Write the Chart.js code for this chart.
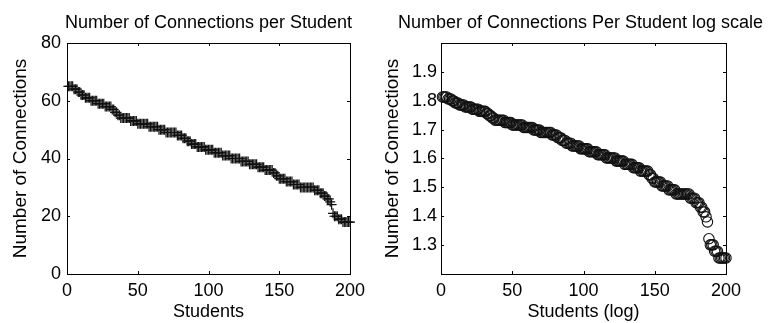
<!DOCTYPE html>
<html>
<head>
<meta charset="utf-8">
<script src="https://cdn.jsdelivr.net/npm/chart.js@4/dist/chart.umd.min.js"></script>
<style>
  html, body { margin: 0; padding: 0; background: #fff; overflow: hidden; }
  #wrap { position: relative; width: 776px; height: 323px; overflow: hidden; }
  canvas { position: absolute; top: 0; }
  #left { left: 0; }
  #right { left: 383px; }
</style>
</head>
<body>
<div id="wrap">
  <canvas id="left" width="417" height="323" style="width:417px;height:323px"></canvas>
  <canvas id="right" width="395" height="323" style="width:395px;height:323px"></canvas>
</div>
<script>
// Connections per student, sorted from most to fewest connected
const connections = [
  65,65,65,65,64,64,64,63,63,62,
  62,62,61,61,61,61,60,60,60,60,
  60,59,59,59,59,59,58,58,58,58,
  58,57,57,56,56,55,55,54,54,54,
  54,54,54,54,53,53,53,53,53,52,
  52,52,52,52,52,52,52,51,51,51,
  51,51,51,51,50,50,50,50,50,49,
  49,49,49,49,49,49,49,48,48,48,
  48,47,47,47,46,46,46,45,45,45,
  45,44,44,44,44,44,44,43,43,43,
  43,43,43,42,42,42,42,42,42,41,
  41,41,41,41,41,40,40,40,40,40,
  40,40,39,39,39,39,39,39,38,38,
  38,38,38,38,37,37,37,37,37,36,
  36,36,36,36,36,35,35,34,34,33,
  33,33,33,33,32,32,32,32,32,31,
  31,31,31,31,30,30,30,30,30,30,
  30,30,30,30,29,29,29,29,28,28,
  28,27,27,26,26,25,24,21,20,20,
  20,19,19,19,18,18,18,18,18,18
];

// Axis tick values
const studentTicks = [0, 50, 100, 150, 200];
const countTicks = [0, 20, 40, 60, 80];
const logCountTicks = [1.3, 1.4, 1.5, 1.6, 1.7, 1.8, 1.9];

// Points: student rank on x, connections (or its log10) on y
const linearPoints = connections.map((v, i) => ({ x: i + 1, y: v }));
const logPoints = connections.map((v, i) => ({ x: i + 1, y: Math.log10(v) }));

Chart.defaults.font.family = '"Liberation Sans", Arial, Helvetica, sans-serif';
Chart.defaults.color = '#000';

// Boxed axes with short inward tick marks on all four sides
const boxTicks = {
  id: 'boxTicks',
  beforeDatasetsDraw(chart) {
    const { ctx, chartArea: { left, right, top, bottom }, scales } = chart;
    const len = 3;
    ctx.save();
    ctx.strokeStyle = '#000';
    ctx.lineWidth = 1;
    ctx.strokeRect(left + 0.5, top + 0.5, right - left, bottom - top);
    ctx.beginPath();
    scales.x.ticks.forEach(t => {
      const px = Math.round(scales.x.getPixelForValue(t.value)) + 0.5;
      ctx.moveTo(px, bottom); ctx.lineTo(px, bottom - len);
      ctx.moveTo(px, top); ctx.lineTo(px, top + len);
    });
    scales.y.ticks.forEach(t => {
      const py = Math.round(scales.y.getPixelForValue(t.value)) + 0.5;
      ctx.moveTo(left, py); ctx.lineTo(left + len, py);
      ctx.moveTo(right, py); ctx.lineTo(right - len, py);
    });
    ctx.stroke();
    ctx.restore();
  }
};

function fixed(size) { return function (scale) { if (scale.isHorizontal()) scale.height = size; else scale.width = size; }; }

function makeChart(id, cfg) {
  return new Chart(document.getElementById(id), {
    type: 'scatter',
    data: { datasets: [cfg.dataset] },
    plugins: [boxTicks],
    options: {
      responsive: false,
      devicePixelRatio: 1,
      animation: false,
      events: [],
      layout: { padding: 0 },
      plugins: {
        legend: { display: false },
        tooltip: { enabled: false },
        title: {
          display: true,
          text: cfg.title,
          font: { size: 18, weight: 'normal' },
          color: '#000',
          padding: { top: 12, bottom: 9.4 }
        }
      },
      scales: {
        x: {
          type: 'linear',
          min: 0, max: 200,
          afterBuildTicks: s => { s.ticks = studentTicks.map(v => ({ value: v })); },
          afterFit: fixed(49),
          grid: { display: false, drawTicks: false },
          border: { display: false },
          ticks: { font: { size: 18 }, padding: 6, color: '#000', maxRotation: 0 },
          title: { display: true, text: cfg.xTitle, font: { size: 18 }, color: '#000', padding: { top: 0, bottom: 0.5 } }
        },
        y: {
          type: 'linear',
          position: 'left',
          min: cfg.yMin, max: cfg.yMax,
          afterBuildTicks: s => { s.ticks = cfg.yTicks.map(v => ({ value: v })); },
          afterFit: fixed(cfg.yWidth),
          grid: { display: false, drawTicks: false },
          border: { display: false },
          ticks: { font: { size: 18 }, padding: cfg.yTickPad, color: '#000', callback: cfg.yFormat },
          title: { display: true, text: 'Number of Connections', font: { size: 19, lineHeight: 1 }, color: '#000', padding: { top: cfg.yTitlePad, bottom: 0 } }
        },
        yRight: {
          type: 'linear',
          position: 'right',
          afterFit: fixed(cfg.rightWidth),
          grid: { display: false, drawTicks: false },
          border: { display: false },
          ticks: { display: false }
        }
      }
    }
  });
}

makeChart('left', {
  title: 'Number of Connections per Student',
  xTitle: 'Students',
  yMin: 0, yMax: 80,
  yTicks: countTicks,
  yFormat: v => String(v),
  yWidth: 67, rightWidth: 67,
  yTickPad: 6, yTitlePad: 11.5,
  dataset: {
    data: linearPoints,
    pointStyle: 'cross',
    pointRadius: 5,
    borderColor: '#111',
    borderWidth: 1.2,
    showLine: false,
    clip: false
  }
});

makeChart('right', {
  title: 'Number of Connections Per Student log scale',
  xTitle: 'Students (log)',
  yMin: 1.2, yMax: 2.0,
  yTicks: logCountTicks,
  yFormat: v => v.toFixed(1),
  yWidth: 58, rightWidth: 52,
  yTickPad: 4, yTitlePad: 0,
  dataset: {
    data: logPoints,
    pointStyle: 'circle',
    pointRadius: 5.2,
    borderColor: '#111',
    backgroundColor: 'rgba(0,0,0,0)',
    borderWidth: 1.1,
    showLine: false,
    clip: false
  }
});
</script>
</body>
</html>
